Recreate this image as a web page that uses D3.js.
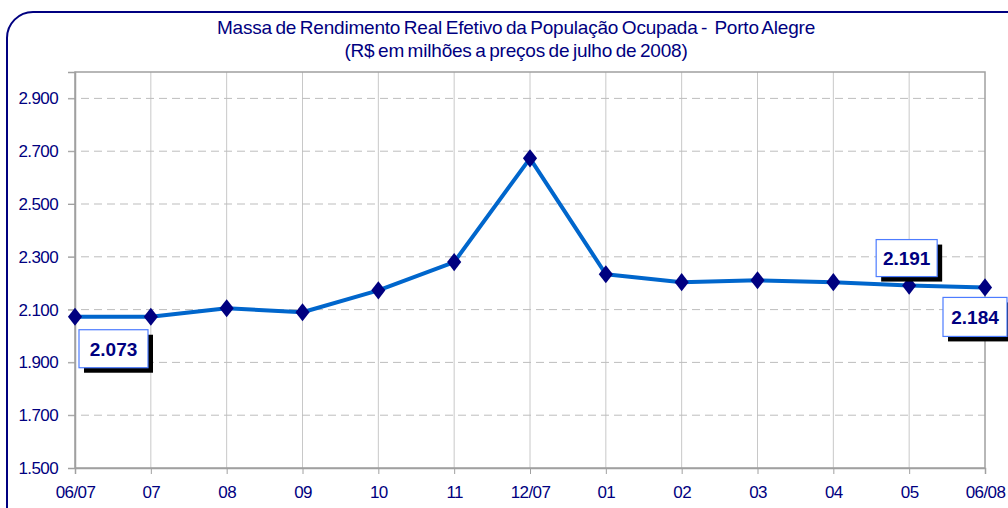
<!DOCTYPE html>
<html>
<head>
<meta charset="utf-8">
<script src="https://cdn.jsdelivr.net/npm/d3@7"></script>
<style>
  html, body { margin: 0; padding: 0; background: #fff; }
  svg { display: block; font-family: "Liberation Sans", Arial, sans-serif; }
</style>
</head>
<body>
<svg id="chart" width="1008" height="508"></svg>
<script>
// monthly series, Porto Alegre, R$ millions (Jun/07 .. Jun/08)
const months = ["06/07", "07", "08", "09", "10", "11", "12/07", "01", "02", "03", "04", "05", "06/08"];
const massa = [2073, 2073, 2105, 2090, 2173, 2280, 2673, 2234, 2204, 2211, 2204, 2191, 2184];
const yTicks = [1500, 1700, 1900, 2100, 2300, 2500, 2700, 2900];
const titleLines = ["Massa de Rendimento Real Efetivo da População Ocupada -  Porto Alegre",
                    "(R$ em milhões a preços de julho de 2008)"];
// which points get a boxed value label, and where the box sits
const callouts = [
  {i: 0, dx: 4, dy: 13, w: 69, h: 38},
  {i: 11, dx: -33, dy: -46, w: 61, h: 37},
  {i: 12, dx: -42, dy: 10, w: 64, h: 39}
];

const NAVY = "#000080", LINE = "#0066cc";
const svg = d3.select("#chart");
const fmt = v => d3.format(",")(v).replace(/,/g, ".");

// outer rounded frame (runs off the bottom/right edge like the source)
svg.append("rect").attr("x", 7).attr("y", 12).attr("width", 1030).attr("height", 530)
  .attr("rx", 26).attr("fill", "#fff").attr("stroke", NAVY).attr("stroke-width", 2);

svg.append("g").selectAll("text").data(titleLines).join("text")
  .attr("x", 516).attr("y", (d, i) => 34 + i * 23)
  .attr("text-anchor", "middle").attr("fill", NAVY)
  .attr("font-size", 19).attr("letter-spacing", -0.2)
  .attr("word-spacing", -1.5).style("white-space", "pre").text(d => d);

const L = 75, R = 985, T = 72, B = 468;
const x = d3.scalePoint().domain(months).range([L, R]);
const y = d3.scaleLinear().domain([1500, 3000]).range([B, T]);

// vertical grid
svg.append("g").selectAll("line").data(months.slice(1, -1)).join("line")
  .attr("x1", d => x(d)).attr("x2", d => x(d)).attr("y1", T).attr("y2", B)
  .attr("stroke", "#c8c8c8").attr("stroke-width", 1);
// horizontal dashed grid
svg.append("g").selectAll("line").data(yTicks.slice(1)).join("line")
  .attr("x1", L - 7).attr("x2", R).attr("y1", d => y(d)).attr("y2", d => y(d))
  .attr("stroke", "#bdbdbd").attr("stroke-dasharray", "8,5");

// plot border
svg.append("rect").attr("x", L).attr("y", T).attr("width", R - L).attr("height", B - T)
  .attr("fill", "none").attr("stroke", "#a0a0a0").attr("stroke-width", 1.5);

// axes
const yAxis = svg.append("g").attr("transform", `translate(${L},0)`)
  .call(d3.axisLeft(y).tickValues(yTicks).tickFormat(fmt).tickSize(7).tickPadding(10));
const xAxis = svg.append("g").attr("transform", `translate(0,${B})`)
  .call(d3.axisBottom(x).tickSize(6).tickPadding(12));
[yAxis, xAxis].forEach(g => {
  g.attr("font-size", 17).attr("font-family", "'Liberation Sans', Arial, sans-serif");
  g.select(".domain").attr("stroke", "#a0a0a0").attr("stroke-width", 1.5);
  g.selectAll(".tick line").attr("stroke", "#a0a0a0");
  g.selectAll("text").attr("fill", NAVY).attr("letter-spacing", -0.6);
});

// series line + diamond markers
const line = d3.line().x((d, i) => x(months[i])).y(d => y(d));
svg.append("path").datum(massa).attr("d", line).attr("fill", "none")
  .attr("stroke", LINE).attr("stroke-width", 4).attr("stroke-linejoin", "round");
svg.append("g").selectAll("path").data(massa).join("path")
  .attr("d", d3.symbol(d3.symbolDiamond, 95))
  .attr("transform", (d, i) => `translate(${x(months[i])},${y(d)}) scale(1.35,1)`)
  .attr("fill", NAVY);

// boxed value callouts with a hard black shadow
const cg = svg.append("g").selectAll("g").data(callouts).join("g")
  .attr("transform", c => `translate(${x(months[c.i]) + c.dx},${y(massa[c.i]) + c.dy})`);
cg.append("rect").attr("x", 5).attr("y", 5).attr("width", c => c.w).attr("height", c => c.h)
  .attr("fill", "#000");
cg.append("rect").attr("width", c => c.w).attr("height", c => c.h)
  .attr("fill", "#fff").attr("stroke", "#4d7cff").attr("stroke-width", 1.2);
cg.append("text").attr("x", c => c.w / 2).attr("y", c => c.h / 2 + 7)
  .attr("text-anchor", "middle").attr("fill", NAVY).attr("font-weight", "bold")
  .attr("font-size", 19).text(c => fmt(massa[c.i]));
</script>
</body>
</html>
